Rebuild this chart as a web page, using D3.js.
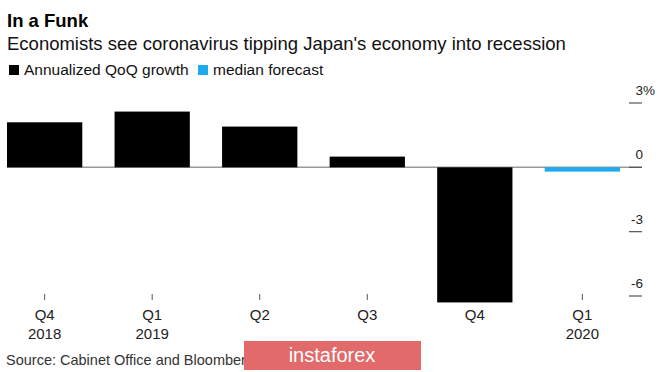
<!DOCTYPE html>
<html>
<head>
<meta charset="utf-8">
<script src="https://cdn.jsdelivr.net/npm/d3@7"></script>
<style>
    html, body { margin: 0; padding: 0; background: #fff; }
    svg { display: block; font-family: "Liberation Sans", Arial, sans-serif; }
</style>
</head>
<body>
<svg id="chart" width="665" height="372"></svg>
<script>
// chart data
var quarters = ['Q4', 'Q1', 'Q2', 'Q3', 'Q4', 'Q1'];
var years    = ['2018', '2019', '', '', '', '2020'];
var growth   = [2.1, 2.6, 1.9, 0.5, -6.3, -0.2];
var kinds    = ['actual', 'actual', 'actual', 'actual', 'actual', 'forecast'];
var yTicks   = [3, 0, -3, -6];
var legendLabels = ['Annualized QoQ growth', 'median forecast'];

document.addEventListener('DOMContentLoaded', function () {

    var BLACK = '#000000', BLUE = '#1eaaf1', GREY = '#999999';

    var svg = d3.select('#chart');

    svg.append('rect').attr('width', 665).attr('height', 372).attr('fill', '#fff');

    // ===== HEADER =====
    svg.append('text')
        .attr('x', 7).attr('y', 27)
        .attr('font-size', 18.5).attr('font-weight', 'bold').attr('fill', '#000')
        .text('In a Funk');

    svg.append('text')
        .attr('x', 7).attr('y', 50)
        .attr('font-size', 18.5).attr('fill', '#111')
        .text("Economists see coronavirus tipping Japan's economy into recession");

    var legendX = [9, 198];
    var legendColor = [BLACK, BLUE];
    legendLabels.forEach(function (lab, i) {
        svg.append('rect')
            .attr('x', legendX[i]).attr('y', 65)
            .attr('width', 10).attr('height', 10)
            .attr('fill', legendColor[i]);
        svg.append('text')
            .attr('x', legendX[i] + 15).attr('y', 75)
            .attr('font-size', 15.5).attr('fill', '#111')
            .text(lab);
    });

    // ===== SCALES =====
    var keys = quarters.map(function (q, i) { return i; });

    var x = d3.scaleBand()
        .domain(keys)
        .range([7, 620])
        .paddingInner(0.3)
        .paddingOuter(0);

    var y = d3.scaleLinear()
        .domain([-6, 3])
        .range([296, 103]);

    // zero line
    svg.append('line')
        .attr('x1', 7).attr('x2', 642)
        .attr('y1', y(0)).attr('y2', y(0))
        .attr('stroke', GREY).attr('stroke-width', 1.5);

    // x ticks (behind the bars)
    keys.forEach(function (k) {
        var cx = x(k) + x.bandwidth() / 2;
        svg.append('line')
            .attr('x1', cx).attr('x2', cx)
            .attr('y1', 294).attr('y2', 300)
            .attr('stroke', '#555').attr('stroke-width', 1);
    });

    // bars
    svg.selectAll('rect.bar')
        .data(growth)
        .enter().append('rect')
        .attr('class', 'bar')
        .attr('x', function (d, i) { return x(i); })
        .attr('width', x.bandwidth())
        .attr('y', function (d) { return y(Math.max(0, d)); })
        .attr('height', function (d) { return Math.abs(y(d) - y(0)); })
        .attr('fill', function (d, i) { return kinds[i] === 'forecast' ? BLUE : BLACK; });

    // ===== RIGHT AXIS =====
    yTicks.forEach(function (t, i) {
        svg.append('line')
            .attr('x1', 629).attr('x2', 642)
            .attr('y1', y(t)).attr('y2', y(t))
            .attr('stroke', '#555').attr('stroke-width', 1.2);
        svg.append('text')
            .attr('x', 643).attr('y', y(t) - 8)
            .attr('text-anchor', 'end')
            .attr('font-size', 13.5).attr('fill', '#222')
            .text(t);
        if (i === 0) {
            svg.append('text')
                .attr('x', 643).attr('y', y(t) - 8)
                .attr('font-size', 13.5).attr('fill', '#222')
                .text('%');
        }
    });

    // ===== X LABELS =====
    keys.forEach(function (k) {
        var cx = x(k) + x.bandwidth() / 2;
        svg.append('text')
            .attr('x', cx).attr('y', 320)
            .attr('text-anchor', 'middle')
            .attr('font-size', 15).attr('fill', '#222')
            .text(quarters[k]);
        if (years[k]) {
            svg.append('text')
                .attr('x', cx).attr('y', 339)
                .attr('text-anchor', 'middle')
                .attr('font-size', 15).attr('fill', '#222')
                .text(years[k]);
        }
    });

    // ===== FOOTER =====
    svg.append('text')
        .attr('x', 6).attr('y', 365)
        .attr('font-size', 14.5).attr('fill', '#333')
        .text('Source: Cabinet Office and Bloomberg');

    // watermark
    svg.append('rect')
        .attr('x', 244).attr('y', 341)
        .attr('width', 177).attr('height', 29)
        .attr('fill', '#e26a6a');
    svg.append('text')
        .attr('x', 332).attr('y', 362)
        .attr('text-anchor', 'middle')
        .attr('font-size', 20).attr('fill', '#fff')
        .text('instaforex');
});
</script>
</body>
</html>
